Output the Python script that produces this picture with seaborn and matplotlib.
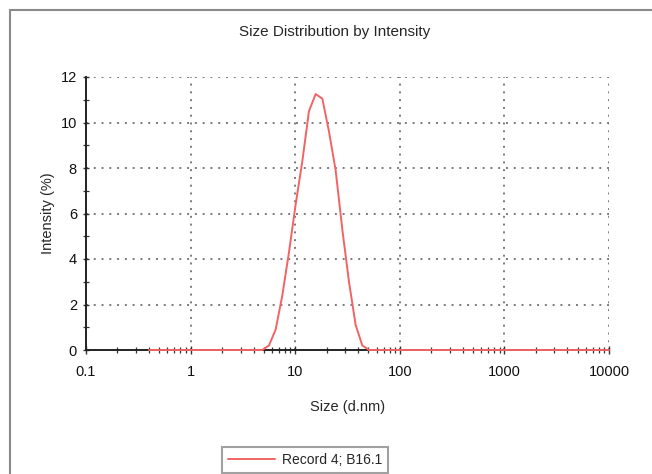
import matplotlib
matplotlib.use("Agg")
import matplotlib.pyplot as plt
import matplotlib.ticker as mticker
from matplotlib.lines import Line2D
import seaborn as sns
import pandas as pd

sizes = [0.4, 4.849, 5.615, 6.503, 7.531, 8.721, 10.1, 11.7, 13.54, 15.69, 18.17,
         21.04, 24.36, 28.21, 32.67, 37.84, 43.82, 50.75, 10000]
intensity = [0, 0, 0.2, 0.9, 2.4, 4.3, 6.4, 8.3, 10.5, 11.25, 11.05,
             9.6, 7.9, 5.3, 3.0, 1.1, 0.2, 0, 0]
series_name = "Record 4; B16.1"
x_ticks = [0.1, 1, 10, 100, 1000, 10000]
x_tick_labels = ["0.1", "1", "10", "100", "1000", "10000"]
y_ticks = [0, 2, 4, 6, 8, 10, 12]

df = pd.DataFrame({"Size": sizes, "Intensity": intensity, "Record": series_name})

sns.set_style("white")
plt.rcParams['font.family'] = ['Liberation Sans', 'DejaVu Sans']

fig = plt.figure(figsize=(6.52, 4.74), dpi=100)
ax = fig.add_axes([86/652, 1-350/474, (609-86)/652, (350-77)/474])

red = "#f26464"
sns.lineplot(data=df, x="Size", y="Intensity", ax=ax, color=red, lw=1.4,
             legend=False, estimator=None, sort=False, zorder=3, clip_on=False)

ax.set_xscale("log")
ax.set_xlim(0.1, 10000)
ax.set_ylim(0, 12)
ax.set_xticks(x_ticks)
ax.set_xticklabels(x_tick_labels)
ax.xaxis.set_minor_locator(mticker.LogLocator(base=10, subs=range(2, 10), numticks=20))
ax.xaxis.set_minor_formatter(mticker.NullFormatter())
ax.set_yticks(y_ticks)
ax.yaxis.set_minor_locator(mticker.MultipleLocator(1))

grid_kw = dict(color="#7a7a7a", lw=1.4, linestyle=(0, (1, 3)))
ax.grid(False)
for xv in x_ticks[1:]:
    ax.axvline(xv, zorder=0, **grid_kw)
for yv in y_ticks[1:]:
    ax.axhline(yv, zorder=0, **grid_kw)

for s in ["top", "right"]:
    ax.spines[s].set_visible(False)
for s in ["left", "bottom"]:
    ax.spines[s].set_color("#222222")
    ax.spines[s].set_linewidth(1.4)
    ax.spines[s].set_zorder(2)

ax.tick_params(axis="x", which="both", bottom=True, top=False)
ax.tick_params(axis="y", which="both", left=True, right=False)
ax.tick_params(axis="x", which="major", direction="inout", length=6, width=1,
               color="#333333", labelsize=10.5, pad=8, labelcolor="#111111")
ax.tick_params(axis="y", which="major", direction="inout", length=5, width=1,
               color="#333333", labelsize=10.5, pad=4, labelcolor="#111111")
ax.tick_params(axis="both", which="minor", direction="inout", length=5, width=0.9,
               color="#333333")
ax.set_xlabel("Size (d.nm)", fontsize=10.5)
ax.set_ylabel("Intensity (%)", fontsize=10.5)
ax.xaxis.set_label_coords(0.5, (350-400)/273)
ax.yaxis.set_label_coords((55-86)/523, 0.5)
fig.text(335/652, 1-32/474, "Size Distribution by Intensity", ha="center", va="center",
         fontsize=11)

handle = Line2D([0], [0], color=red, lw=1.4)
leg = fig.legend([handle], [series_name], loc="center",
                 bbox_to_anchor=(305/652, 1-460/474), frameon=True, fancybox=False,
                 fontsize=10, handlelength=3.4, borderpad=0.4, handletextpad=0.5)
leg.get_frame().set_edgecolor("#8a8a8a")
leg.get_frame().set_linewidth(1.5)

# figure border (left and top)
fig.add_artist(Line2D([10/652, 10/652], [0, 1-10/474], transform=fig.transFigure,
                      color="#8a8a8a", lw=1.5))
fig.add_artist(Line2D([10/652, 1], [1-10/474, 1-10/474], transform=fig.transFigure,
                      color="#8a8a8a", lw=1.5))

fig.savefig("out.png", dpi=100)
